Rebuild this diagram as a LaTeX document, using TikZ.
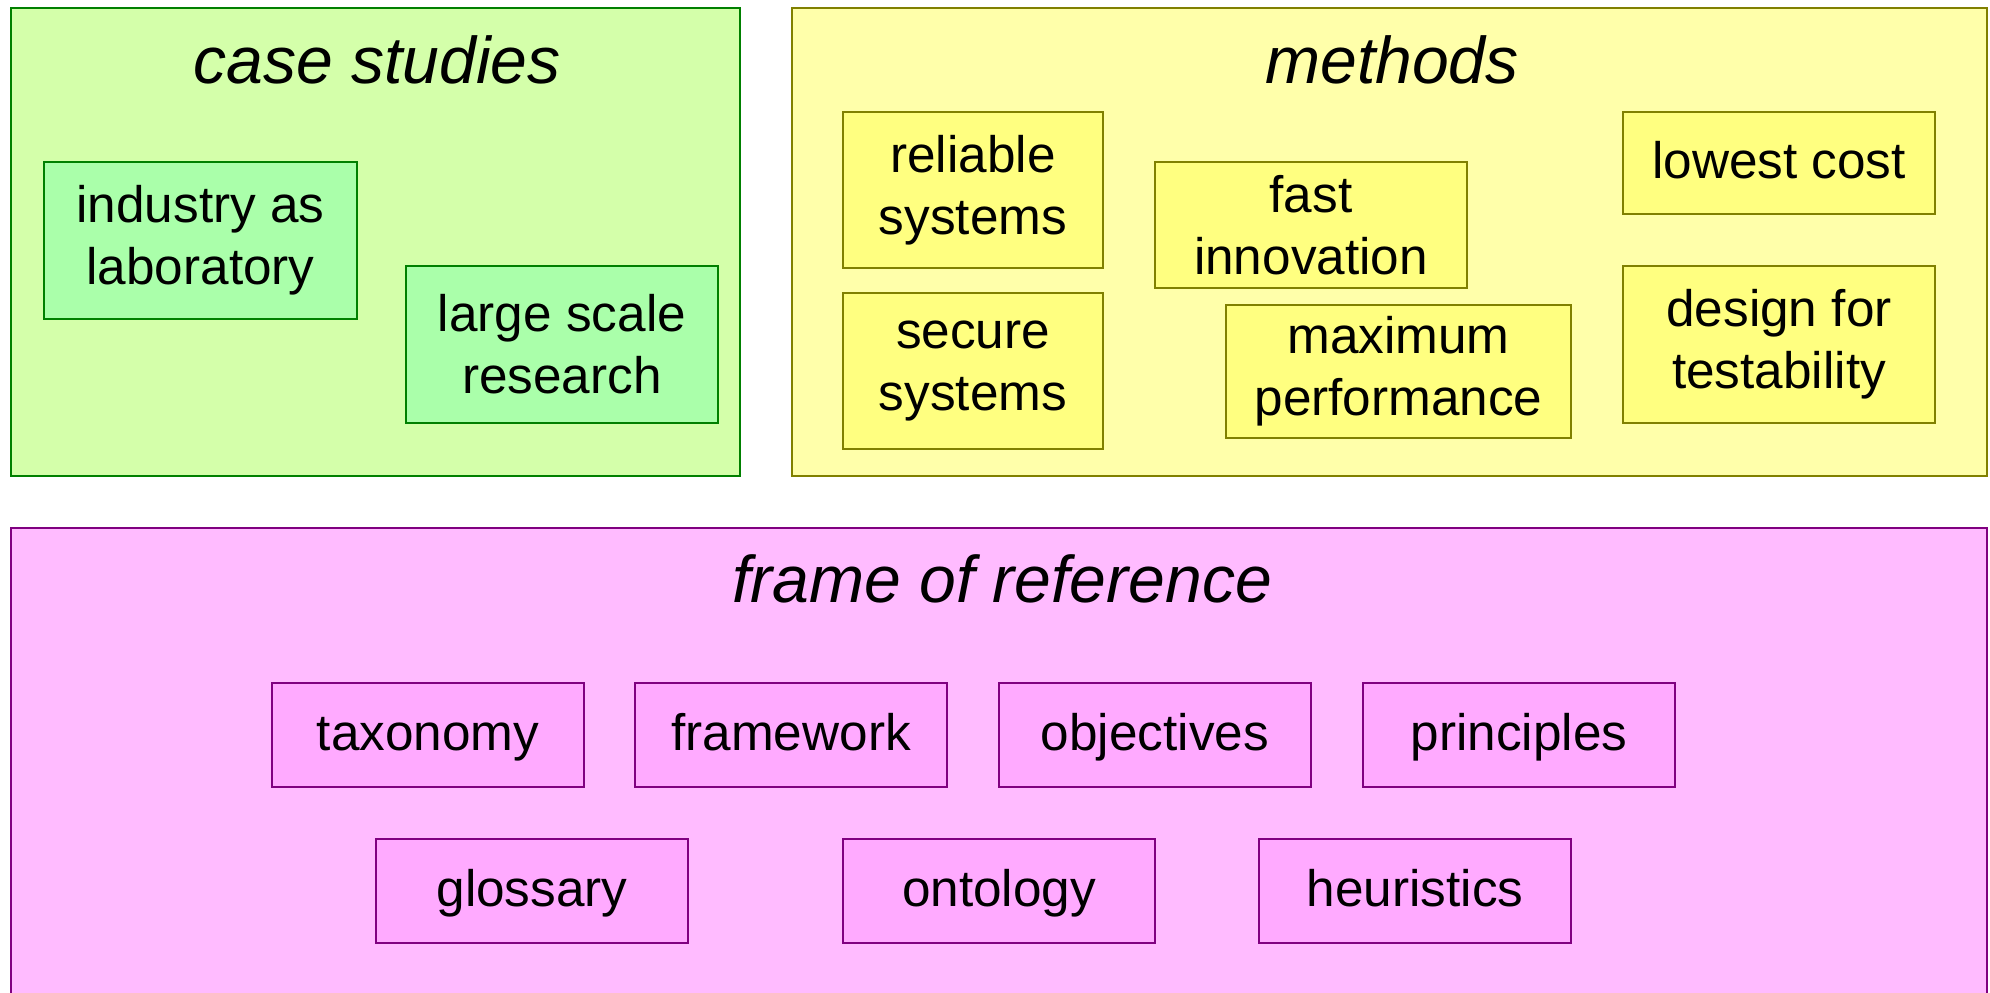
\documentclass[tikz,border=0pt]{standalone}
\usepackage{fontspec}
\setmainfont{Liberation Sans}
\usepackage{tikz}
\definecolor{greenbg}{RGB}{212,255,170}
\definecolor{greenbox}{RGB}{170,255,170}
\definecolor{greenline}{RGB}{0,128,0}
\definecolor{yellowbg}{RGB}{255,255,170}
\definecolor{yellowbox}{RGB}{255,255,128}
\definecolor{yellowline}{RGB}{128,128,0}
\definecolor{pinkbg}{RGB}{255,187,255}
\definecolor{pinkbox}{RGB}{255,170,255}
\definecolor{pinkline}{RGB}{128,0,128}
\tikzstyle{every node}=[font=\fontsize{14.6}{17.6}\selectfont]
\tikzstyle{panel}=[draw,line width=0.7pt,rectangle,inner sep=0pt]
\tikzstyle{item}=[draw,line width=0.7pt,rectangle,inner sep=0pt,align=center]
\tikzstyle{oneline}=[text height=12.5pt,text depth=3.5pt]
\tikzstyle{title}=[font=\fontsize{18.8}{22}\selectfont\itshape]

\begin{document}
\begin{tikzpicture}
    \useasboundingbox (0,0) rectangle (19.9,-9.92);
    % panels
    \node[panel,fill=greenbg,draw=greenline,minimum width=7.29cm,minimum height=4.68cm] (casepanel) at (3.755,-2.42) {};
    \node[panel,fill=yellowbg,draw=yellowline,minimum width=11.95cm,minimum height=4.68cm] (methpanel) at (13.895,-2.42) {};
    \node[panel,fill=pinkbg,draw=pinkline,minimum width=19.76cm,minimum height=5cm] (refpanel) at (9.99,-7.78) {};
    \node[title] (casetitle) at (3.77,-0.6) {case studies};
    \node[title] (methtitle) at (13.92,-0.6) {methods};
    \node[title] (reftitle) at (10.02,-5.79) {frame of reference};
    % case studies
    \tikzset{every node/.append style={fill=greenbox,draw=greenline}}
    \node[item,minimum width=3.13cm,minimum height=1.57cm] (industry) at (2.005,-2.405) {industry as\\laboratory};
    \node[item,minimum width=3.12cm,minimum height=1.57cm] (largescale) at (5.62,-3.445) {large scale\\research};
    % methods
    \tikzset{every node/.append style={fill=yellowbox,draw=yellowline}}
    \node[item,minimum width=2.6cm,minimum height=1.56cm] (reliable) at (9.73,-1.9) {reliable\\systems};
    \node[item,minimum width=2.6cm,minimum height=1.56cm] (secure) at (9.73,-3.71) {secure\\systems};
    \node[item,minimum width=3.12cm,minimum height=1.26cm] (fast) at (13.11,-2.25) {fast\\innovation};
    \node[item,minimum width=3.45cm,minimum height=1.33cm] (maxperf) at (13.985,-3.715) {maximum\\performance};
    \node[item,oneline,minimum width=3.12cm,minimum height=1.02cm] (lowcost) at (17.79,-1.63) {lowest cost};
    \node[item,minimum width=3.12cm,minimum height=1.57cm] (testability) at (17.79,-3.445) {design for\\testability};
    % frame of reference
    \tikzset{every node/.append style={fill=pinkbox,draw=pinkline,minimum width=3.12cm,minimum height=1.04cm}}
    \node[item,oneline] (taxonomy) at (4.28,-7.35) {taxonomy};
    \node[item,oneline] (framework) at (7.91,-7.35) {framework};
    \node[item,oneline] (objectives) at (11.55,-7.35) {objectives};
    \node[item,oneline] (principles) at (15.19,-7.35) {principles};
    \node[item,oneline] (glossary) at (5.32,-8.91) {glossary};
    \node[item,oneline] (ontology) at (9.99,-8.91) {ontology};
    \node[item,oneline] (heuristics) at (14.15,-8.91) {heuristics};
\end{tikzpicture}
\end{document}
